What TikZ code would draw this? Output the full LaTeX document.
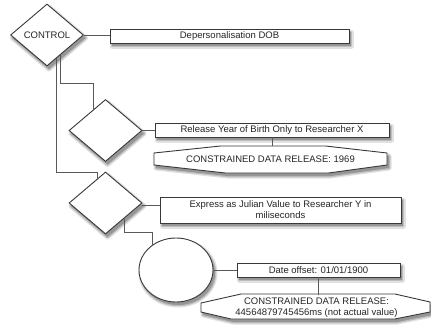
\documentclass[tikz,border=0pt]{standalone}
\usepackage{fontspec}
\setmainfont{Liberation Sans}
\usetikzlibrary{shapes.geometric,calc}
\definecolor{shadowA}{RGB}{225,225,225}
\definecolor{shadowB}{RGB}{190,190,190}
\definecolor{shadowC}{RGB}{150,150,150}
\begin{document}
\begin{tikzpicture}[x=1pt,y=-1pt,
  shA/.style={draw=shadowA,fill=shadowA,line width=5pt,line join=round},
  shB/.style={draw=shadowB,fill=shadowB,line width=2.5pt,line join=round},
  shC/.style={fill=shadowC},
  shp/.style={draw=black!78,line width=0.9pt,fill=white},
  txt/.style={font=\fontsize{9.5}{11}\selectfont,text=black!85},
  boxsty/.style={shp,txt,rectangle,inner sep=0pt,align=center},
  dia/.style={shp,txt,diamond,inner sep=0pt,minimum width=73pt,minimum height=62pt},
  conn/.style={draw=black!65,line width=0.9pt}]
\useasboundingbox (0,0) rectangle (431,327);

% shadows (drawn first, offset down-right)
\foreach \s in {shA,shB,shC}{
  \path[\s] (49,7) -- (85.5,38) -- (49,69) -- (12.5,38) -- cycle;
  \path[\s] (107.5,102.5) -- (144,133.5) -- (107.5,164.5) -- (71,133.5) -- cycle;
  \path[\s] (107.5,175) -- (144,206) -- (107.5,237) -- (71,206) -- cycle;
  \path[\s] (178,273) ellipse [x radius=37,y radius=32];
  \path[\s] (112,32) rectangle (351,46);
  \path[\s] (157,126) rectangle (391,140);
  \path[\s] (162,200) rectangle (403,226);
  \path[\s] (239,266) rectangle (402,280);
  \path[\s] (156,156) -- (222.5,149) -- (327.5,149) -- (389,156) -- (389,168) -- (330.5,176) -- (227.5,176) -- (156,168) -- cycle;
  \path[\s] (203,306) -- (243,297) -- (397,297) -- (432,305) -- (432,315) -- (397,322) -- (233,322) -- (203,315) -- cycle;
}

% decision shapes
\node[dia] (ctrl) at (47,35) {CONTROL};
\node[dia] (d2) at (105.5,130.5) {};
\node[dia] (d3) at (105.5,203) {};
\node[shp,ellipse,minimum width=74pt,minimum height=64pt,inner sep=0pt] (el) at (176,270) {};

% boxes
\node[boxsty,minimum width=239pt,minimum height=14pt] (b1) at (229.5,36) {Depersonalisation DOB};
\node[boxsty,minimum width=234pt,minimum height=14pt] (b2) at (272,130) {Release Year of Birth Only to Researcher X};
\node[boxsty,minimum width=241pt,minimum height=26pt] (b3) at (280.5,210) {Express as Julian Value to Researcher Y in\\miliseconds};
\node[boxsty,minimum width=163pt,minimum height=14pt] (b4) at (318.5,270) {Date offset: 01/01/1900};

% hexagons
\draw[shp] (154,153) -- (220.5,146) -- (325.5,146) -- (387,153) -- (387,165) -- (328.5,173) -- (225.5,173) -- (154,165) -- cycle;
\node[txt,inner sep=0pt,minimum width=233pt,minimum height=27pt] (h1) at (270.5,159.5) {CONSTRAINED DATA RELEASE: 1969};
\draw[shp] (201,303) -- (241,294) -- (395,294) -- (430,302) -- (430,312) -- (395,319) -- (231,319) -- (201,312) -- cycle;
\node[txt,inner sep=0pt,align=center,minimum width=229pt,minimum height=25pt] (h2) at (316.5,307.5) {CONSTRAINED DATA RELEASE:\\44564879745456ms (not actual value)};

% connectors
\draw[conn] (ctrl.east) -- (ctrl.east -| b1.west);
\draw[conn] ($(ctrl.south)+(13,-11.5)$) |- ($(d2.north)+(-12.5,-16)$) -- ($(d2.north)+(-12.5,10.5)$);
\draw[conn] ($(ctrl.south)+(9,-8)$) |- ($(d3.north)+(-8.5,1)$) -- ($(d3.north)+(-8.5,7)$);
\draw[conn] ($(d3.south)+(18.5,-15.5)$) |- ($(el.center)+(-24,-38)$) -- ($(el.center)+(-24,-24.5)$);
\draw[conn] (d2.east) -- (d2.east -| b2.west);
\draw[conn] (b2.south) -- (b2.south |- h1.north);
\draw[conn] ($(d3.east)+(0,2)$) -- ($(d3.east -| b3.west)+(0,2)$);
\draw[conn] (el.east) -- (el.east -| b4.west);
\draw[conn] (b4.south) -- (b4.south |- h2.north);
\end{tikzpicture}
\end{document}
